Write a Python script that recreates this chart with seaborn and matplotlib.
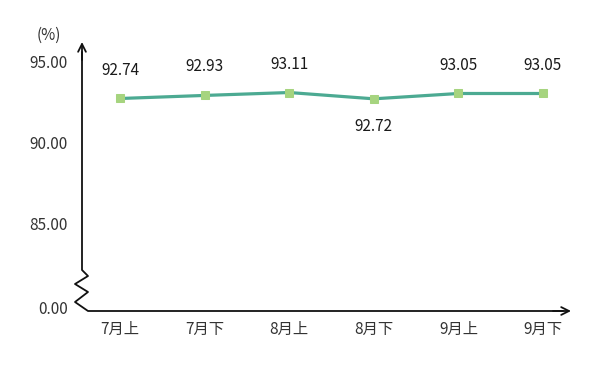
import matplotlib
matplotlib.use("Agg")
import matplotlib.pyplot as plt
import seaborn as sns
import pandas as pd
import numpy as np

categories = ["7月上", "7月下", "8月上", "8月下", "9月上", "9月下"]
values = [92.74, 92.93, 93.11, 92.72, 93.05, 93.05]
label_above = [True, True, True, False, True, True]
ytick_values = [0.00, 85.00, 90.00, 95.00]
ytick_labels = ["0.00", "85.00", "90.00", "95.00"]
unit_label = "(%)"

sns.set_theme(style="white")
plt.rcParams['font.family'] = ['Noto Sans CJK SC', 'DejaVu Sans']

W, H = 600, 371
fig = plt.figure(figsize=(6, 3.71), dpi=100)
fig.patch.set_facecolor("white")

# pixel geometry of the axis frame
left_px, right_px, bottom_px, top_px = 82, 571, 311, 42
ax = fig.add_axes([left_px / W, (H - bottom_px) / H,
                   (right_px - left_px) / W, (bottom_px - top_px) / H])
ax.set_facecolor("white")

# x scale: index 0 at px 120, index 5 at px 543
xs = (543 - 120) / 5
xmin = -(120 - left_px) / xs
xmax = xmin + (right_px - left_px) / xs
ax.set_xlim(xmin, xmax)

# y scale: 95 at px 62, 85 at px 223.5 (broken axis, 0 mapped below 85)
ys = (223.5 - 62) / 10
ymin = 95 - (bottom_px - 62) / ys
ymax = 95 + (62 - top_px) / ys
ax.set_ylim(ymin, ymax)
zero_pos = 95 - (307 - 62) / ys

def ymap(v):
    return zero_pos if v == 0 else v

df = pd.DataFrame({"idx": np.arange(len(categories)), "val": values})
line_color = "#4caa92"
marker_color = "#a6d47f"
sns.lineplot(data=df, x="idx", y="val", ax=ax, color=line_color, linewidth=2.3,
             marker="s", markersize=6, markerfacecolor=marker_color,
             markeredgecolor=marker_color, zorder=3)

for i, (v, up) in enumerate(zip(values, label_above)):
    ax.annotate(f"{v:.2f}", (i, v), xytext=(0, 20.5 if up else -20),
                textcoords="offset points", ha="center", va="center",
                fontsize=11, color="#1a1a1a")

for s in ax.spines.values():
    s.set_visible(False)

ax.set_xticks(range(len(categories)))
ax.set_xticklabels(categories, fontsize=11, color="#333333")
ax.set_yticks([ymap(v) for v in ytick_values])
ax.set_yticklabels(ytick_labels, fontsize=11, color="#333333")
ax.tick_params(axis="x", length=0, pad=7)
ax.tick_params(axis="y", length=0, pad=10)
ax.set_xlabel("")
ax.set_ylabel("")
ax.grid(False)

# axis lines drawn in pixel-derived data coords
def px_to_data(px, py):
    return (xmin + (px - left_px) / xs, 95 - (py - 62) / ys)

zig = [(82, 52), (82, 270), (88, 276), (75, 284), (88, 292), (75, 302), (88, 311), (563, 311)]
zx, zy = zip(*[px_to_data(a, b) for a, b in zig])
ax.plot(zx, zy, color="#111111", lw=1.3, clip_on=False, zorder=2)

# arrows
ax.annotate("", xy=px_to_data(82, 42), xytext=px_to_data(82, 60),
            arrowprops=dict(arrowstyle="->", color="#111111", lw=1.3,
                            mutation_scale=14, shrinkA=0, shrinkB=0),
            annotation_clip=False)
ax.annotate("", xy=px_to_data(571, 311), xytext=px_to_data(553, 311),
            arrowprops=dict(arrowstyle="->", color="#111111", lw=1.3,
                            mutation_scale=14, shrinkA=0, shrinkB=0),
            annotation_clip=False)

fig.text(49 / W, 1 - 35 / H, unit_label, ha="center", va="center",
         fontsize=11, color="#333333")

fig.savefig("out.png", dpi=100, facecolor="white")
